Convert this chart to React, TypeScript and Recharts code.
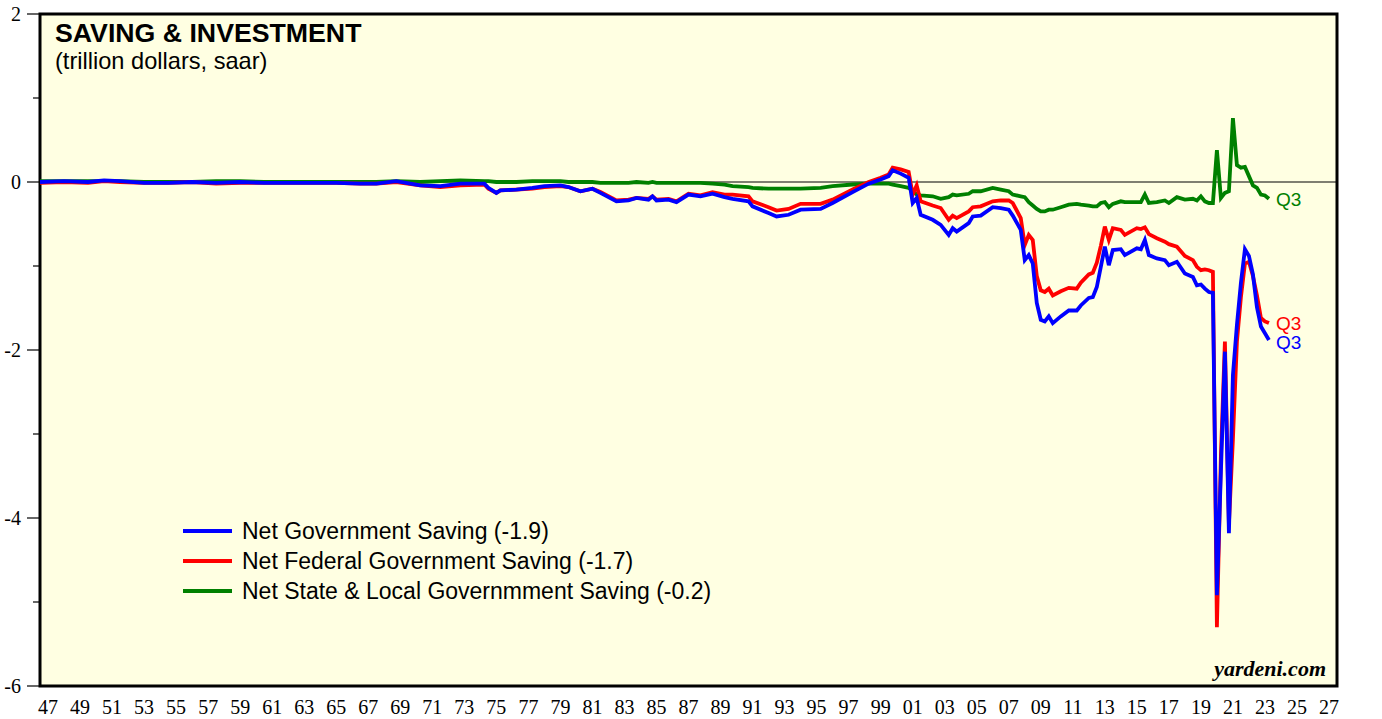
import { LineChart, Line, XAxis, YAxis, ReferenceArea, ReferenceLine } from 'recharts';

// quarter-end dates (decimal years), values in trillion dollars, saar
const dates = [
  1947.0, 1948.5, 1950.0, 1951.0, 1952.0, 1953.5, 1955.0, 1956.5, 1958.0, 1959.5,
  1961.0, 1962.5, 1964.0, 1965.5, 1967.0, 1968.0, 1969.25, 1970.75, 1972.0, 1973.25, 1974.75,
  1975.0, 1975.5, 1975.75, 1976.75, 1977.75, 1978.5, 1979.5, 1980.0, 1980.75, 1981.5,
  1982.0, 1983.0, 1983.75, 1984.25, 1985.0, 1985.25, 1985.5, 1986.25, 1986.75, 1987.5,
  1988.25, 1989.0, 1989.75,
  1990.25, 1991.25, 1991.5, 1992.5, 1993.0, 1993.75, 1994.5, 1995.75, 1996.5, 1997.75,
  1998.75, 1999.5, 2000.0, 2000.25, 2000.75, 2001.25, 2001.5, 2001.75,
  2002.0, 2002.75, 2003.25, 2003.75, 2004.0, 2004.25, 2005.0, 2005.25, 2005.75, 2006.5,
  2007.0, 2007.5, 2007.75, 2008.25, 2008.5, 2008.75, 2009.0, 2009.25, 2009.5, 2009.75,
  2010.0, 2010.25, 2010.75, 2011.25, 2011.75, 2012.0, 2012.5, 2012.75, 2013.0, 2013.25,
  2013.5, 2013.75, 2014.0, 2014.5, 2014.75, 2015.5, 2015.75, 2016.0, 2016.25, 2016.75,
  2017.25, 2017.5, 2018.0, 2018.5, 2019.0, 2019.25, 2019.5, 2019.75, 2020.0, 2020.25,
  2020.5, 2020.75, 2021.0, 2021.25, 2021.5, 2021.75, 2022.0, 2022.25, 2022.5, 2022.75,
  2023.0, 2023.25, 2023.5, 2023.75,
];

const govSaving = [
  0.0, 0.01, 0.0, 0.02, 0.01, -0.01, -0.01, 0.0, -0.01, 0.0,
  -0.01, -0.01, -0.01, -0.01, -0.02, -0.02, 0.01, -0.04, -0.05, -0.02, -0.02,
  -0.07, -0.13, -0.1, -0.09, -0.07, -0.05, -0.04, -0.06, -0.11, -0.08,
  -0.13, -0.23, -0.22, -0.19, -0.21, -0.17, -0.22, -0.21, -0.24, -0.15,
  -0.17, -0.14, -0.18,
  -0.2, -0.23, -0.29, -0.37, -0.41, -0.39, -0.33, -0.32, -0.25, -0.12,
  -0.02, 0.03, 0.07, 0.14, 0.1, 0.05, -0.25, -0.19,
  -0.39, -0.45, -0.51, -0.63, -0.55, -0.59, -0.49, -0.41, -0.4, -0.3,
  -0.31, -0.33, -0.4, -0.57, -0.93, -0.87, -0.97, -1.44, -1.64, -1.66,
  -1.6, -1.68, -1.6, -1.53, -1.53, -1.47, -1.38, -1.37, -1.25, -1.01,
  -0.77, -0.99, -0.81, -0.8, -0.87, -0.79, -0.8, -0.69, -0.87, -0.91,
  -0.93, -0.99, -0.95, -1.09, -1.13, -1.23, -1.22, -1.27, -1.31, -1.32,
  -4.92, -3.45, -2.02, -4.18, -2.3, -1.7, -1.2, -0.8, -0.88, -1.1,
  -1.49, -1.72, -1.8, -1.88,
];

const fedSaving = [
  -0.01, 0.0, -0.01, 0.01, 0.0, -0.01, -0.01, 0.0, -0.02, -0.01,
  -0.01, -0.01, -0.01, -0.01, -0.02, -0.02, 0.0, -0.04, -0.06, -0.04, -0.03,
  -0.08, -0.13, -0.1, -0.09, -0.08, -0.06, -0.05, -0.06, -0.11, -0.08,
  -0.12, -0.22, -0.21, -0.19, -0.2, -0.17, -0.21, -0.2, -0.23, -0.14,
  -0.16, -0.12, -0.15,
  -0.15, -0.17, -0.23, -0.3, -0.34, -0.32, -0.26, -0.26, -0.21, -0.09,
  0.0, 0.05, 0.09, 0.17, 0.15, 0.12, -0.15, -0.04,
  -0.23, -0.28, -0.31, -0.45, -0.4, -0.43, -0.35, -0.3, -0.29, -0.23,
  -0.22, -0.22, -0.25, -0.43, -0.75, -0.63, -0.69, -1.12, -1.29, -1.31,
  -1.27, -1.35, -1.3, -1.26, -1.27, -1.2, -1.1, -1.08, -0.96, -0.76,
  -0.53, -0.69, -0.55, -0.57, -0.63, -0.55, -0.56, -0.54, -0.62, -0.67,
  -0.71, -0.74, -0.77, -0.88, -0.93, -1.01, -1.05, -1.04, -1.05, -1.07,
  -5.3, -3.26, -1.9, -4.07, -3.06, -1.9, -1.37, -0.97, -0.95, -1.12,
  -1.35, -1.62, -1.66, -1.68,
];

const slSaving = [
  0.01, 0.01, 0.01, 0.01, 0.01, 0.0, 0.0, 0.0, 0.01, 0.01,
  0.0, 0.0, 0.0, 0.0, 0.0, 0.0, 0.01, 0.0, 0.01, 0.02, 0.01,
  0.01, 0.0, 0.0, 0.0, 0.01, 0.01, 0.01, 0.0, 0.0, 0.0,
  -0.01, -0.01, -0.01, 0.0, -0.01, 0.0, -0.01, -0.01, -0.01, -0.01,
  -0.01, -0.02, -0.03,
  -0.05, -0.06, -0.07, -0.08, -0.08, -0.08, -0.08, -0.07, -0.05, -0.03,
  -0.02, -0.02, -0.02, -0.03, -0.05, -0.07, -0.1, -0.15,
  -0.16, -0.17, -0.2, -0.18, -0.15, -0.16, -0.14, -0.11, -0.11, -0.07,
  -0.09, -0.11, -0.15, -0.17, -0.18, -0.24, -0.28, -0.32, -0.35, -0.35,
  -0.33, -0.33, -0.3, -0.27, -0.26, -0.27, -0.28, -0.29, -0.29, -0.25,
  -0.24, -0.3, -0.26, -0.23, -0.24, -0.24, -0.24, -0.15, -0.25, -0.24,
  -0.22, -0.25, -0.18, -0.21, -0.2, -0.22, -0.17, -0.23, -0.25, -0.25,
  0.38, -0.19, -0.13, -0.11, 0.76, 0.2, 0.17, 0.18, 0.07, -0.04,
  -0.07, -0.15, -0.16, -0.2,
];

const data = dates.map((d, i) => ({
  date: d,
  gov: govSaving[i],
  fed: fedSaving[i],
  sl: slSaving[i],
}));

// drawing order: green under red under blue
const series = [
  { key: 'sl', name: 'Net State & Local Governmment Saving (-0.2)', color: '#008000', dy: 1 },
  { key: 'fed', name: 'Net Federal Government Saving (-1.7)', color: '#ff0000', dy: 0 },
  { key: 'gov', name: 'Net Government Saving (-1.9)', color: '#0000ff', dy: 2 },
];
const legendOrder = ['gov', 'fed', 'sl'];

const yTicks = [-6, -5, -4, -3, -2, -1, 0, 1, 2];
const yearTicks = Array.from({ length: 82 }, (_, i) => 1947 + i);
const yearLabels = yearTicks.filter((y) => y % 2 === 1).map((y) => y + 0.5);

const SERIF = '"Liberation Serif", "Times New Roman", serif';
const SANS = '"Liberation Sans", Arial, sans-serif';

function LeftTick(props: any) {
  const { x, y, payload } = props;
  const major = payload.value % 2 === 0;
  return (
    <g>
      <line x1={x - (major ? 13 : 7)} x2={x} y1={y} y2={y} stroke="#000" strokeWidth={1.2} />
      {major && (
        <text x={x - 19} y={y} dy="0.35em" textAnchor="end" fontFamily={SERIF} fontSize={20} fill="#000">
          {payload.value}
        </text>
      )}
    </g>
  );
}

function RightTick(props: any) {
  const { x, y, payload } = props;
  const major = payload.value % 2 === 0;
  return (
    <g>
      <line x1={x} x2={x + (major ? 12 : 7)} y1={y} y2={y} stroke="#000" strokeWidth={1.2} />
      {major && (
        <text x={x + 14} y={y} dy="0.35em" textAnchor="start" fontFamily={SERIF} fontSize={20} fill="#000">
          {payload.value}
        </text>
      )}
    </g>
  );
}

function YearTick(props: any) {
  const { x, y } = props;
  return <line x1={x} x2={x} y1={y} y2={y + 8} stroke="#000" strokeWidth={1.2} />;
}

function YearLabel(props: any) {
  const { x, y, payload } = props;
  const yy = String(Math.floor(payload.value) % 100).padStart(2, '0');
  return (
    <text x={x} y={y + 28} textAnchor="middle" fontFamily={SERIF} fontSize={20} fill="#000">
      {yy}
    </text>
  );
}

const lastIndex = dates.length - 1;

function endLabel(color: string, dy: number) {
  return (p: any) => {
    if (p.index !== lastIndex) return <g />;
    return (
      <text x={p.x + 7} y={p.y + dy} dy="0.35em" fontFamily={SANS} fontSize={19} fill={color}>
        Q3
      </text>
    );
  };
}

export default function App() {
  return (
    <div style={{ position: 'relative', width: 1382, height: 719, background: '#fff' }}>
      <style>{`body{margin:0}`}</style>
      <LineChart width={1382} height={719} data={data} margin={{ top: 14, right: 0, bottom: 0, left: 0 }}>
        <XAxis
          xAxisId="yr"
          dataKey="date"
          type="number"
          domain={[1947, 2028]}
          ticks={yearTicks}
          interval={0}
          height={0}
          tickSize={0}
          tickMargin={0}
          axisLine={false}
          tickLine={false}
          tick={<YearTick />}
        />
        <XAxis
          xAxisId="lbl"
          dataKey="date"
          type="number"
          domain={[1947, 2028]}
          ticks={yearLabels}
          interval={0}
          height={33}
          tickSize={0}
          tickMargin={0}
          axisLine={false}
          tickLine={false}
          tick={<YearLabel />}
        />
        <YAxis
          yAxisId="left"
          domain={[-6, 2]}
          ticks={yTicks}
          interval={0}
          width={40}
          tickSize={0}
          tickMargin={0}
          axisLine={false}
          tickLine={false}
          tick={<LeftTick />}
        />
        <YAxis
          yAxisId="right"
          orientation="right"
          domain={[-6, 2]}
          ticks={yTicks}
          interval={0}
          width={45}
          tickSize={0}
          tickMargin={0}
          axisLine={false}
          tickLine={false}
          tick={<RightTick />}
        />
        <ReferenceArea
          xAxisId="yr"
          yAxisId="left"
          x1={1947}
          x2={2028}
          y1={-6}
          y2={2}
          fill="#ffffe2"
          fillOpacity={1}
          stroke="#000"
          strokeWidth={3}
        />
        <ReferenceLine xAxisId="yr" yAxisId="left" y={0} stroke="#000" strokeWidth={1.2} />
        {series.map((s) => (
          <Line
            key={s.key}
            xAxisId="yr"
            yAxisId="left"
            type="linear"
            dataKey={s.key}
            stroke={s.color}
            strokeWidth={3.8}
            dot={false}
            isAnimationActive={false}
            label={endLabel(s.color, s.dy)}
          />
        ))}
      </LineChart>

      <div style={{ position: 'absolute', left: 30, top: -22, fontFamily: SANS, fontWeight: 'bold', fontSize: 20, lineHeight: '22px' }}>
        Figure 1.
      </div>
      <div style={{ position: 'absolute', left: 55, top: 20, fontFamily: SANS, fontWeight: 'bold', fontSize: 26.7, lineHeight: '26px' }}>
        SAVING &amp; INVESTMENT
      </div>
      <div style={{ position: 'absolute', left: 55, top: 49, fontFamily: SANS, fontSize: 23.6, lineHeight: '24px' }}>
        (trillion dollars, saar)
      </div>

      <div style={{ position: 'absolute', left: 183, top: 516, fontFamily: SANS, fontSize: 23 }}>
        {legendOrder.map((k) => {
          const s = series.find((x) => x.key === k)!;
          return (
            <div key={k} style={{ display: 'flex', alignItems: 'center', height: 30 }}>
              <div style={{ width: 49, height: 3.5, background: s.color, marginRight: 10 }} />
              <span>{s.name}</span>
            </div>
          );
        })}
      </div>

      <div
        style={{
          position: 'absolute',
          right: 1382 - 1326,
          top: 656,
          fontFamily: SERIF,
          fontWeight: 'bold',
          fontStyle: 'italic',
          fontSize: 22,
          lineHeight: '26px',
        }}
      >
        yardeni.com
      </div>
    </div>
  );
}
